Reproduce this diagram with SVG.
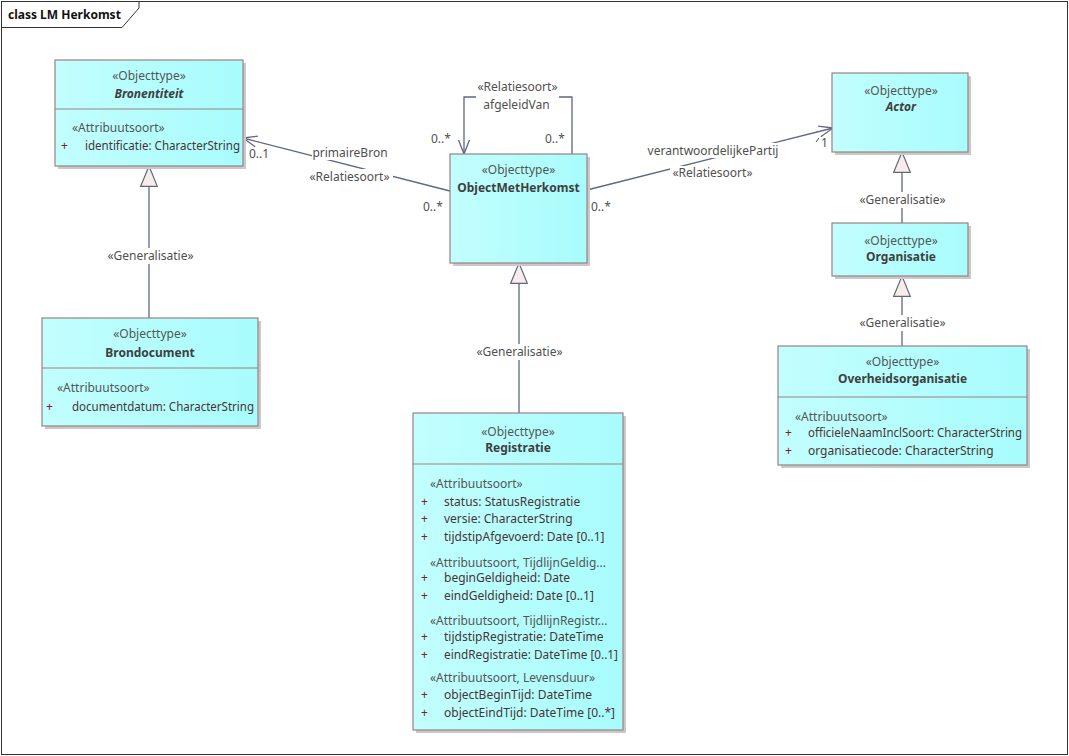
<svg xmlns="http://www.w3.org/2000/svg" width="1069" height="756" viewBox="0 0 1069 756">
<defs>
<linearGradient id="fill" x1="0" y1="0" x2="1" y2="0">
<stop offset="0" stop-color="#c2fefe"/>
<stop offset="1" stop-color="#a8fcfc"/>
</linearGradient>
<marker id="open" markerWidth="20" markerHeight="20" refX="0" refY="0" viewBox="-16 -10 20 20" orient="auto" markerUnits="userSpaceOnUse">
<path d="M-14,-5.5 L0,0 L-14,5.5" fill="none" stroke="#5f6780" stroke-width="1.3"/>
</marker>
<marker id="gen" markerWidth="24" markerHeight="24" refX="0" refY="0" viewBox="-24 -12 26 24" orient="auto" markerUnits="userSpaceOnUse">
<path d="M-22,-9 L0,0 L-22,9 Z" fill="#f7ece7" stroke="#5f6780" stroke-width="1.3"/>
</marker>
</defs>
<style>
text{font-family:"Noto Sans","Liberation Sans",Arial,sans-serif;font-size:12px;fill:#4a4a4a}
.c{text-anchor:middle}
.b{font-weight:bold;fill:#3f3f3f}
.bi{font-weight:bold;font-style:italic;fill:#3f3f3f}
.st{fill:#555}
.a{fill:#4a3434}
.p{fill:#7a1c2c}
.box{fill:url(#fill);stroke:#9b8080;stroke-width:1.2}
.sh{fill:#c9c9c9}
.sep{stroke:#9b8080;stroke-width:1.2}
.ln{fill:none;stroke:#5f6780;stroke-width:1.3}
.bg{fill:#ffffff}
.lb{fill:#505050}
</style>
<rect x="0" y="0" width="1069" height="756" fill="#ffffff"/>
<g id="frame">
<rect x="1.5" y="1.5" width="1066" height="753" fill="none" stroke="#333" stroke-width="1"/>
<path d="M1.5,27.5 L122,27.5 L139,8 L139,1.5" fill="none" stroke="#333" stroke-width="1"/>
<text x="8" y="19" style="font-weight:bold;fill:#111">class LM Herkomst</text>
</g>
<g id="connectors">
<path class="ln" d="M450,191 L243,138" marker-end="url(#open)"/>
<path class="ln" d="M572,154 L572,97 L464,97 L464,154" marker-end="url(#open)"/>
<path class="ln" d="M587,190 L833,128" marker-end="url(#open)"/>
<path class="ln" d="M149,318 L149,166" marker-end="url(#gen)"/>
<path class="ln" d="M519,413 L519,263" marker-end="url(#gen)"/>
<path class="ln" d="M902,223 L902,152" marker-end="url(#gen)"/>
<path class="ln" d="M902,346 L902,276" marker-end="url(#gen)"/>
<rect class="bg" x="312" y="145" width="76" height="15"/>
<rect class="bg" x="307" y="169" width="86" height="15"/>
<text class="lb c" x="350" y="157">primaireBron</text>
<text class="lb c" x="349.5" y="181">«Relatiesoort»</text>
<text class="lb" x="249" y="158">0..1</text>
<text class="lb" x="423" y="211">0..*</text>
<rect class="bg" x="476" y="79" width="83" height="33"/>
<text class="lb c" x="517.5" y="91">«Relatiesoort»</text>
<text class="lb c" x="516.5" y="109">afgeleidVan</text>
<text class="lb" x="431" y="143">0..*</text>
<text class="lb" x="545" y="143">0..*</text>
<rect class="bg" x="646" y="143" width="134" height="15"/>
<rect class="bg" x="670" y="166" width="86" height="15"/>
<text class="lb c" x="713" y="155">verantwoordelijkePartij</text>
<text class="lb c" x="712.5" y="177">«Relatiesoort»</text>
<path d="M816,142 L819,138" stroke="#505050" stroke-width="1"/>
<text class="lb" x="821" y="147">1</text>
<text class="lb" x="591" y="211">0..*</text>
<rect class="bg" x="105" y="248" width="91" height="16"/>
<text class="lb c" x="150.5" y="260">«Generalisatie»</text>
<rect class="bg" x="474" y="344" width="91" height="16"/>
<text class="lb c" x="519.5" y="356">«Generalisatie»</text>
<rect class="bg" x="857" y="192" width="91" height="16"/>
<text class="lb c" x="902.5" y="204">«Generalisatie»</text>
<rect class="bg" x="857" y="315" width="91" height="16"/>
<text class="lb c" x="902.5" y="327">«Generalisatie»</text>
</g>
<g id="Bronentiteit">
<rect class="sh" x="58" y="63" width="188" height="106"/>
<rect class="box" x="55" y="60" width="188" height="106"/>
<line class="sep" x1="55" y1="109" x2="243" y2="109"/>
<text class="st c" x="149" y="80">«Objecttype»</text>
<text class="bi c" x="149" y="98">Bronentiteit</text>
<text class="st" x="72" y="132">«Attribuutsoort»</text>
<text class="p" x="61" y="150">+</text>
<text class="a" x="85" y="150" textLength="155" lengthAdjust="spacingAndGlyphs">identificatie: CharacterString</text>
</g>
<g id="ObjectMetHerkomst">
<rect class="sh" x="453" y="157" width="137" height="109"/>
<rect class="box" x="450" y="154" width="137" height="109"/>
<text class="st c" x="518.5" y="174">«Objecttype»</text>
<text class="b c" x="518.5" y="192">ObjectMetHerkomst</text>
</g>
<g id="Actor">
<rect class="sh" x="835" y="76" width="136" height="79"/>
<rect class="box" x="832" y="73" width="136" height="79"/>
<text class="st c" x="901" y="95">«Objecttype»</text>
<text class="bi c" x="901" y="111">Actor</text>
</g>
<g id="Organisatie">
<rect class="sh" x="835" y="226" width="136" height="53"/>
<rect class="box" x="832" y="223" width="136" height="53"/>
<text class="st c" x="901" y="245">«Objecttype»</text>
<text class="b c" x="901" y="261">Organisatie</text>
</g>
<g id="Overheidsorganisatie">
<rect class="sh" x="781" y="349" width="249" height="119"/>
<rect class="box" x="778" y="346" width="249" height="119"/>
<line class="sep" x1="778" y1="397" x2="1027" y2="397"/>
<text class="st c" x="902.5" y="366">«Objecttype»</text>
<text class="b c" x="902.5" y="383">Overheidsorganisatie</text>
<text class="st" x="795" y="421">«Attribuutsoort»</text>
<text class="p" x="785" y="437">+</text>
<text class="a" x="808" y="437" textLength="214" lengthAdjust="spacingAndGlyphs">officieleNaamInclSoort: CharacterString</text>
<text class="p" x="785" y="455">+</text>
<text class="a" x="808" y="455">organisatiecode: CharacterString</text>
</g>
<g id="Brondocument">
<rect class="sh" x="45" y="321" width="216" height="108"/>
<rect class="box" x="42" y="318" width="216" height="108"/>
<line class="sep" x1="42" y1="368" x2="258" y2="368"/>
<text class="st c" x="150" y="338">«Objecttype»</text>
<text class="b c" x="150" y="357">Brondocument</text>
<text class="st" x="57" y="392">«Attribuutsoort»</text>
<text class="p" x="46" y="411">+</text>
<text class="a" x="72" y="411" textLength="182" lengthAdjust="spacingAndGlyphs">documentdatum: CharacterString</text>
</g>
<g id="Registratie">
<rect class="sh" x="416" y="416" width="210" height="317"/>
<rect class="box" x="413" y="413" width="210" height="317"/>
<line class="sep" x1="413" y1="464" x2="623" y2="464"/>
<text class="st c" x="518" y="436">«Objecttype»</text>
<text class="b c" x="518" y="452">Registratie</text>
<text class="st" x="430" y="488">«Attribuutsoort»</text>
<text class="p" x="421" y="506">+</text>
<text class="a" x="444" y="506">status: StatusRegistratie</text>
<text class="p" x="421" y="523">+</text>
<text class="a" x="444" y="523">versie: CharacterString</text>
<text class="p" x="421" y="541">+</text>
<text class="a" x="444" y="541">tijdstipAfgevoerd: Date [0..1]</text>
<text class="st" x="430" y="567">«Attribuutsoort, TijdlijnGeldig...</text>
<text class="p" x="421" y="582">+</text>
<text class="a" x="444" y="582">beginGeldigheid: Date</text>
<text class="p" x="421" y="600">+</text>
<text class="a" x="444" y="600">eindGeldigheid: Date [0..1]</text>
<text class="st" x="430" y="625">«Attribuutsoort, TijdlijnRegistr...</text>
<text class="p" x="421" y="641">+</text>
<text class="a" x="444" y="641">tijdstipRegistratie: DateTime</text>
<text class="p" x="421" y="659">+</text>
<text class="a" x="444" y="659" textLength="174" lengthAdjust="spacingAndGlyphs">eindRegistratie: DateTime [0..1]</text>
<text class="st" x="430" y="682">«Attribuutsoort, Levensduur»</text>
<text class="p" x="421" y="699">+</text>
<text class="a" x="444" y="699">objectBeginTijd: DateTime</text>
<text class="p" x="421" y="717">+</text>
<text class="a" x="444" y="717">objectEindTijd: DateTime [0..*]</text>
</g>
</svg>
